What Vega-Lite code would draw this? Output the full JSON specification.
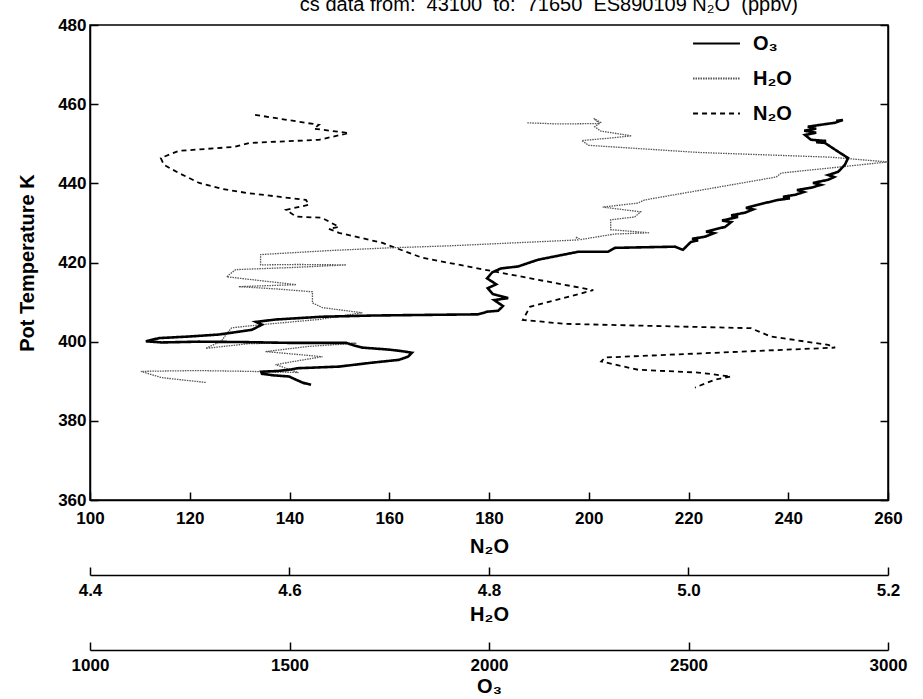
{
  "$schema": "https://vega.github.io/schema/vega-lite/v6.json",
  "background": "white",
  "padding": {"left": 16, "top": -5, "right": 5, "bottom": 0},
  "title": {
    "text": "cs data from:\u00a0 43100\u00a0 to:\u00a0 71650\u00a0 ES890109 N₂O\u00a0 (ppbv)",
    "font": "Liberation Sans", "fontSize": 20, "fontWeight": "normal", "color": "black",
    "anchor": "middle", "dx": 87, "offset": 0
  },
  "config": {
    "font": "Liberation Sans",
    "view": {"stroke": null},
    "axis": {
      "labelFont": "Liberation Sans", "labelFontSize": 17, "labelFontWeight": "bold", "labelColor": "black",
      "titleFont": "Liberation Sans", "titleFontSize": 20, "titleFontWeight": "bold", "titleColor": "black",
      "domainColor": "black", "tickColor": "black", "domainWidth": 1.5, "tickWidth": 1.5,
      "grid": false, "tickSize": -8, "labelPadding": 12, "labelFlush": false, "labelOverlap": false
    },
    "legend": {
      "labelFont": "Liberation Sans", "labelFontSize": 20, "labelFontWeight": "bold", "labelColor": "black"
    }
  },
  "datasets": {
    "n2o": [
      {"s":"N₂O","i":1,"v":133.1,"k":457.3},{"s":"N₂O","i":2,"v":139.7,"k":456.0},{"s":"N₂O","i":3,"v":143.7,"k":455.2},
      {"s":"N₂O","i":4,"v":145.9,"k":454.8},{"s":"N₂O","i":5,"v":144.9,"k":453.8},{"s":"N₂O","i":6,"v":151.9,"k":452.7},
      {"s":"N₂O","i":7,"v":145.9,"k":451.0},{"s":"N₂O","i":8,"v":131.9,"k":450.2},{"s":"N₂O","i":9,"v":128.9,"k":449.2},
      {"s":"N₂O","i":10,"v":117.8,"k":448.2},{"s":"N₂O","i":11,"v":114.2,"k":446.4},{"s":"N₂O","i":12,"v":114.8,"k":444.7},
      {"s":"N₂O","i":13,"v":117.8,"k":442.6},{"s":"N₂O","i":14,"v":121.9,"k":440.1},{"s":"N₂O","i":15,"v":126.5,"k":438.6},
      {"s":"N₂O","i":16,"v":131.3,"k":437.6},{"s":"N₂O","i":17,"v":143.3,"k":435.8},{"s":"N₂O","i":18,"v":143.9,"k":434.6},
      {"s":"N₂O","i":19,"v":139.3,"k":433.3},{"s":"N₂O","i":20,"v":141.3,"k":431.6},{"s":"N₂O","i":21,"v":146.5,"k":431.3},
      {"s":"N₂O","i":22,"v":149.9,"k":429.0},{"s":"N₂O","i":23,"v":147.9,"k":428.5},{"s":"N₂O","i":24,"v":149.9,"k":427.5},
      {"s":"N₂O","i":25,"v":158.5,"k":425.0},{"s":"N₂O","i":26,"v":166.6,"k":421.2},{"s":"N₂O","i":27,"v":182.0,"k":417.5},
      {"s":"N₂O","i":28,"v":200.9,"k":413.0},{"s":"N₂O","i":29,"v":188.2,"k":408.8},{"s":"N₂O","i":30,"v":186.8,"k":405.5},
      {"s":"N₂O","i":31,"v":195.2,"k":404.5},{"s":"N₂O","i":32,"v":232.5,"k":403.4},{"s":"N₂O","i":33,"v":236.5,"k":401.3},
      {"s":"N₂O","i":34,"v":248.0,"k":399.2},{"s":"N₂O","i":35,"v":249.4,"k":398.5},{"s":"N₂O","i":36,"v":203.3,"k":396.0},
      {"s":"N₂O","i":37,"v":202.5,"k":395.0},{"s":"N₂O","i":38,"v":209.9,"k":392.9},{"s":"N₂O","i":39,"v":221.9,"k":392.2},
      {"s":"N₂O","i":40,"v":228.5,"k":391.2},{"s":"N₂O","i":41,"v":225.3,"k":390.4},{"s":"N₂O","i":42,"v":221.3,"k":388.4}
    ],
    "h2o": [
      {"s":"H₂O","i":1,"v":4.516,"k":389.7},{"s":"H₂O","i":2,"v":4.494,"k":390.3},{"s":"H₂O","i":3,"v":4.472,"k":390.9},
      {"s":"H₂O","i":4,"v":4.451,"k":392.5},{"s":"H₂O","i":5,"v":4.508,"k":392.7},{"s":"H₂O","i":6,"v":4.558,"k":392.5},
      {"s":"H₂O","i":7,"v":4.609,"k":392.2},{"s":"H₂O","i":8,"v":4.586,"k":394.2},{"s":"H₂O","i":9,"v":4.609,"k":395.2},
      {"s":"H₂O","i":10,"v":4.633,"k":396.2},{"s":"H₂O","i":11,"v":4.598,"k":397.0},{"s":"H₂O","i":12,"v":4.576,"k":397.5},
      {"s":"H₂O","i":13,"v":4.619,"k":398.8},{"s":"H₂O","i":14,"v":4.667,"k":399.6},{"s":"H₂O","i":15,"v":4.609,"k":399.7},
      {"s":"H₂O","i":16,"v":4.559,"k":399.5},{"s":"H₂O","i":17,"v":4.516,"k":398.3},{"s":"H₂O","i":18,"v":4.532,"k":400.2},
      {"s":"H₂O","i":19,"v":4.537,"k":402.0},{"s":"H₂O","i":20,"v":4.542,"k":403.5},{"s":"H₂O","i":21,"v":4.572,"k":404.3},
      {"s":"H₂O","i":22,"v":4.629,"k":405.6},{"s":"H₂O","i":23,"v":4.673,"k":407.3},{"s":"H₂O","i":24,"v":4.633,"k":408.6},
      {"s":"H₂O","i":25,"v":4.623,"k":409.8},{"s":"H₂O","i":26,"v":4.623,"k":412.6},{"s":"H₂O","i":27,"v":4.588,"k":413.3},
      {"s":"H₂O","i":28,"v":4.549,"k":413.9},{"s":"H₂O","i":29,"v":4.607,"k":414.4},{"s":"H₂O","i":30,"v":4.568,"k":415.5},
      {"s":"H₂O","i":31,"v":4.537,"k":416.4},{"s":"H₂O","i":32,"v":4.546,"k":418.2},{"s":"H₂O","i":33,"v":4.609,"k":418.8},
      {"s":"H₂O","i":34,"v":4.657,"k":419.4},{"s":"H₂O","i":35,"v":4.609,"k":419.5},{"s":"H₂O","i":36,"v":4.571,"k":419.4},
      {"s":"H₂O","i":37,"v":4.571,"k":422.0},{"s":"H₂O","i":38,"v":4.639,"k":423.0},{"s":"H₂O","i":39,"v":4.700,"k":423.7},
      {"s":"H₂O","i":40,"v":4.759,"k":424.2},{"s":"H₂O","i":41,"v":4.829,"k":425.0},{"s":"H₂O","i":42,"v":4.889,"k":425.7},
      {"s":"H₂O","i":43,"v":4.887,"k":426.5},{"s":"H₂O","i":44,"v":4.892,"k":425.8},{"s":"H₂O","i":45,"v":4.926,"k":427.2},
      {"s":"H₂O","i":46,"v":4.961,"k":427.5},{"s":"H₂O","i":47,"v":4.922,"k":428.3},{"s":"H₂O","i":48,"v":4.922,"k":430.8},
      {"s":"H₂O","i":49,"v":4.946,"k":431.5},{"s":"H₂O","i":50,"v":4.952,"k":432.8},{"s":"H₂O","i":51,"v":4.914,"k":434.0},
      {"s":"H₂O","i":52,"v":4.949,"k":435.0},{"s":"H₂O","i":53,"v":4.956,"k":435.8},{"s":"H₂O","i":54,"v":5.088,"k":441.6},
      {"s":"H₂O","i":55,"v":5.093,"k":442.6},{"s":"H₂O","i":56,"v":5.200,"k":445.4},{"s":"H₂O","i":57,"v":5.143,"k":446.6},
      {"s":"H₂O","i":58,"v":5.010,"k":447.8},{"s":"H₂O","i":59,"v":4.900,"k":449.6},{"s":"H₂O","i":60,"v":4.893,"k":450.8},
      {"s":"H₂O","i":61,"v":4.924,"k":451.5},{"s":"H₂O","i":62,"v":4.943,"k":452.0},{"s":"H₂O","i":63,"v":4.912,"k":453.2},
      {"s":"H₂O","i":64,"v":4.906,"k":454.3},{"s":"H₂O","i":65,"v":4.912,"k":455.4},{"s":"H₂O","i":66,"v":4.905,"k":456.4},
      {"s":"H₂O","i":67,"v":4.911,"k":455.1},{"s":"H₂O","i":68,"v":4.869,"k":455.0},{"s":"H₂O","i":69,"v":4.838,"k":455.3}
    ],
    "o3": [
      {"s":"O₃","i":1,"v":1554,"k":389.1},{"s":"O₃","i":2,"v":1534,"k":389.6},{"s":"O₃","i":3,"v":1516,"k":390.4},
      {"s":"O₃","i":4,"v":1499,"k":391.2},{"s":"O₃","i":5,"v":1459,"k":391.5},{"s":"O₃","i":6,"v":1431,"k":391.9},
      {"s":"O₃","i":7,"v":1429,"k":392.4},{"s":"O₃","i":8,"v":1471,"k":392.6},{"s":"O₃","i":9,"v":1499,"k":392.9},
      {"s":"O₃","i":10,"v":1521,"k":393.3},{"s":"O₃","i":11,"v":1549,"k":393.4},{"s":"O₃","i":12,"v":1624,"k":393.7},
      {"s":"O₃","i":13,"v":1707,"k":394.7},{"s":"O₃","i":14,"v":1774,"k":395.4},{"s":"O₃","i":15,"v":1797,"k":396.2},
      {"s":"O₃","i":16,"v":1807,"k":397.2},{"s":"O₃","i":17,"v":1782,"k":397.6},{"s":"O₃","i":18,"v":1749,"k":398.0},
      {"s":"O₃","i":19,"v":1682,"k":398.5},{"s":"O₃","i":20,"v":1657,"k":399.2},{"s":"O₃","i":21,"v":1642,"k":399.7},
      {"s":"O₃","i":22,"v":1499,"k":399.7},{"s":"O₃","i":23,"v":1381,"k":399.9},{"s":"O₃","i":24,"v":1273,"k":400.0},
      {"s":"O₃","i":25,"v":1180,"k":399.8},{"s":"O₃","i":26,"v":1140,"k":400.1},{"s":"O₃","i":27,"v":1173,"k":400.9},
      {"s":"O₃","i":28,"v":1248,"k":401.3},{"s":"O₃","i":29,"v":1323,"k":401.8},{"s":"O₃","i":30,"v":1406,"k":403.0},
      {"s":"O₃","i":31,"v":1431,"k":404.3},{"s":"O₃","i":32,"v":1416,"k":405.0},{"s":"O₃","i":33,"v":1466,"k":405.6},
      {"s":"O₃","i":34,"v":1581,"k":406.3},{"s":"O₃","i":35,"v":1707,"k":406.6},{"s":"O₃","i":36,"v":1875,"k":406.8},
      {"s":"O₃","i":37,"v":1972,"k":406.9},{"s":"O₃","i":38,"v":1997,"k":407.6},{"s":"O₃","i":39,"v":2023,"k":407.8},
      {"s":"O₃","i":40,"v":2035,"k":409.0},{"s":"O₃","i":41,"v":2013,"k":410.5},{"s":"O₃","i":42,"v":2048,"k":411.0},
      {"s":"O₃","i":43,"v":2010,"k":412.0},{"s":"O₃","i":44,"v":1997,"k":413.5},{"s":"O₃","i":45,"v":2018,"k":414.5},
      {"s":"O₃","i":46,"v":1995,"k":416.0},{"s":"O₃","i":47,"v":2008,"k":417.5},{"s":"O₃","i":48,"v":2030,"k":418.5},
      {"s":"O₃","i":49,"v":2073,"k":419.0},{"s":"O₃","i":50,"v":2123,"k":420.7},{"s":"O₃","i":51,"v":2223,"k":422.7},
      {"s":"O₃","i":52,"v":2298,"k":422.7},{"s":"O₃","i":53,"v":2316,"k":423.7},{"s":"O₃","i":54,"v":2466,"k":424.0},
      {"s":"O₃","i":55,"v":2486,"k":423.2},{"s":"O₃","i":56,"v":2506,"k":425.2},{"s":"O₃","i":57,"v":2524,"k":425.6},
      {"s":"O₃","i":58,"v":2509,"k":426.0},{"s":"O₃","i":59,"v":2541,"k":426.5},{"s":"O₃","i":60,"v":2564,"k":427.4},
      {"s":"O₃","i":61,"v":2544,"k":427.8},{"s":"O₃","i":62,"v":2592,"k":429.0},{"s":"O₃","i":63,"v":2607,"k":430.2},
      {"s":"O₃","i":64,"v":2584,"k":430.6},{"s":"O₃","i":65,"v":2624,"k":431.5},{"s":"O₃","i":66,"v":2607,"k":431.9},
      {"s":"O₃","i":67,"v":2642,"k":432.6},{"s":"O₃","i":68,"v":2662,"k":433.4},{"s":"O₃","i":69,"v":2644,"k":433.8},
      {"s":"O₃","i":70,"v":2674,"k":434.6},{"s":"O₃","i":71,"v":2724,"k":435.8},{"s":"O₃","i":72,"v":2754,"k":436.2},
      {"s":"O₃","i":73,"v":2737,"k":436.6},{"s":"O₃","i":74,"v":2767,"k":437.1},{"s":"O₃","i":75,"v":2789,"k":437.8},
      {"s":"O₃","i":76,"v":2772,"k":438.3},{"s":"O₃","i":77,"v":2807,"k":438.9},{"s":"O₃","i":78,"v":2832,"k":439.6},
      {"s":"O₃","i":79,"v":2812,"k":440.1},{"s":"O₃","i":80,"v":2850,"k":440.9},{"s":"O₃","i":81,"v":2865,"k":441.6},
      {"s":"O₃","i":82,"v":2850,"k":442.1},{"s":"O₃","i":83,"v":2875,"k":442.9},{"s":"O₃","i":84,"v":2892,"k":444.7},
      {"s":"O₃","i":85,"v":2900,"k":446.4},{"s":"O₃","i":86,"v":2875,"k":448.0},{"s":"O₃","i":87,"v":2842,"k":450.2},
      {"s":"O₃","i":88,"v":2820,"k":450.4},{"s":"O₃","i":89,"v":2845,"k":450.7},{"s":"O₃","i":90,"v":2807,"k":451.0},
      {"s":"O₃","i":91,"v":2792,"k":452.2},{"s":"O₃","i":92,"v":2820,"k":452.8},{"s":"O₃","i":93,"v":2790,"k":453.3},
      {"s":"O₃","i":94,"v":2820,"k":453.8},{"s":"O₃","i":95,"v":2799,"k":454.3},{"s":"O₃","i":96,"v":2832,"k":454.8},
      {"s":"O₃","i":97,"v":2867,"k":455.3},{"s":"O₃","i":98,"v":2887,"k":456.0},{"s":"O₃","i":99,"v":2870,"k":455.8}
    ]
  },
  "spacing": 74,
  "bounds": "flush",
  "vconcat": [
    {
      "width": 798,
      "height": 475,
      "view": {"stroke": "black", "strokeWidth": 1.5},
      "encoding": {
        "y": {"field": "k", "type": "quantitative",
              "scale": {"domain": [360, 480], "nice": false, "zero": false}},
        "order": {"field": "i", "type": "quantitative"},
        "color": {"field": "s", "type": "nominal",
                  "scale": {"domain": ["O₃", "H₂O", "N₂O"], "range": ["black", "#555555", "black"]},
                  "legend": {"title": null, "orient": "none", "legendX": 602, "legendY": -6,
                             "symbolType": "stroke", "symbolSize": 2200, "symbolStrokeWidth": 2,
                             "rowPadding": -14, "labelOffset": 12}},
        "strokeDash": {"field": "s", "type": "nominal",
                       "scale": {"domain": ["O₃", "H₂O", "N₂O"], "range": [[1, 0], [1.5, 1], [5, 4]]},
                       "legend": {"title": null, "orient": "none", "legendX": 602, "legendY": -6,
                                  "symbolType": "stroke", "symbolSize": 2200, "symbolStrokeWidth": 2,
                                  "rowPadding": -14, "labelOffset": 12}}
      },
      "layer": [
        {
          "data": {"name": "n2o"},
          "mark": {"type": "line", "strokeWidth": 1.8},
          "encoding": {
            "x": {"field": "v", "type": "quantitative",
                  "scale": {"domain": [100, 260], "nice": false, "zero": false},
                  "axis": {"title": "N₂O", "orient": "bottom", "labelPadding": 18,
                           "values": [100, 120, 140, 160, 180, 200, 220, 240, 260], "titlePadding": 10}},
            "y": {"field": "k", "type": "quantitative",
                  "scale": {"domain": [360, 480], "nice": false, "zero": false},
                  "axis": {"title": "Pot Temperature K", "values": [360, 380, 400, 420, 440, 460, 480], "titlePadding": 20}}
          }
        },
        {
          "data": {"name": "h2o"},
          "mark": {"type": "line", "strokeWidth": 1.3},
          "encoding": {
            "x": {"field": "v", "type": "quantitative",
                  "scale": {"domain": [4.4, 5.2], "nice": false, "zero": false}, "axis": null},
            "y": {"field": "k", "type": "quantitative",
                  "scale": {"domain": [360, 480], "nice": false, "zero": false},
                  "axis": {"orient": "right", "labels": false, "title": null,
                           "values": [360, 380, 400, 420, 440, 460, 480]}}
          }
        },
        {
          "data": {"name": "o3"},
          "mark": {"type": "line", "strokeWidth": 2.6},
          "encoding": {
            "x": {"field": "v", "type": "quantitative",
                  "scale": {"domain": [1000, 3000], "nice": false, "zero": false}, "axis": null},
            "y": {"field": "k", "type": "quantitative",
                  "scale": {"domain": [360, 480], "nice": false, "zero": false}, "axis": null}
          }
        }
      ],
      "resolve": {"scale": {"x": "independent"}, "axis": {"x": "independent", "y": "independent"}}
    },
    {
      "width": 798,
      "height": 1,
      "data": {"values": [{"h": 4.4}, {"h": 5.2}]},
      "mark": {"type": "point", "opacity": 0},
      "encoding": {
        "x": {"field": "h", "type": "quantitative",
              "scale": {"domain": [4.4, 5.2], "nice": false, "zero": false},
              "axis": {"title": "H₂O", "values": [4.4, 4.6, 4.8, 5.0, 5.2], "format": ".1f",
                       "labelPadding": 15, "titlePadding": 6}}
      }
    },
    {
      "width": 798,
      "height": 1,
      "data": {"values": [{"o": 1000}, {"o": 3000}]},
      "mark": {"type": "point", "opacity": 0},
      "encoding": {
        "x": {"field": "o", "type": "quantitative",
              "scale": {"domain": [1000, 3000], "nice": false, "zero": false},
              "axis": {"title": "O₃", "values": [1000, 1500, 2000, 2500, 3000], "format": "d",
                       "labelPadding": 15, "titlePadding": 3}}
      }
    }
  ]
}
